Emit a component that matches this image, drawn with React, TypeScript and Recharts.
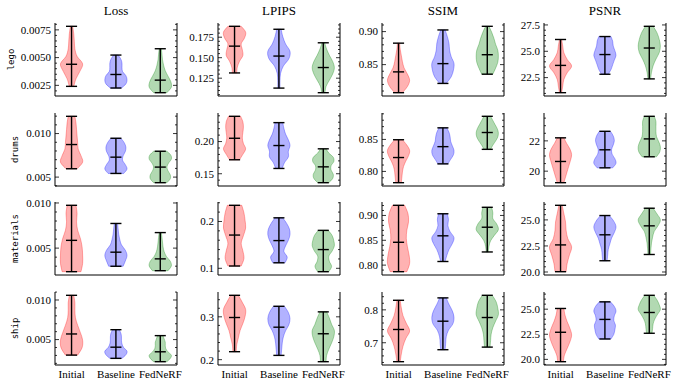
import React from "react";
import { Bar, ComposedChart, XAxis, YAxis } from "recharts";

const groups = ["Initial", "Baseline", "FedNeRF"];
const scenes = ["lego", "drums", "materials", "ship"];
const metrics = ["Loss", "LPIPS", "SSIM", "PSNR"];
const colors = ["#ff0000", "#0000ff", "#008000"];

// [min, median, max] for Initial, Baseline, FedNeRF
const legoLoss = [[0.00241, 0.0044, 0.00782], [0.00226, 0.00348, 0.00523], [0.00184, 0.00297, 0.0058]];
const legoLpips = [[0.1314, 0.1641, 0.1883], [0.1129, 0.152, 0.1847], [0.1073, 0.138, 0.1682]];
const legoSsim = [[0.8075, 0.839, 0.8825], [0.8215, 0.8515, 0.9025], [0.8355, 0.865, 0.908]];
const legoPsnr = [[21.07, 23.66, 26.12], [22.82, 24.69, 26.4], [22.38, 25.31, 27.37]];

const drumsLoss = [[0.00596, 0.00874, 0.01198], [0.00542, 0.00729, 0.00946], [0.00436, 0.00615, 0.00797]];
const drumsLpips = [[0.1717, 0.2051, 0.2392], [0.1582, 0.1938, 0.2294], [0.1361, 0.1607, 0.1887]];
const drumsSsim = [[0.7824, 0.8217, 0.8495], [0.8118, 0.8387, 0.8681], [0.8345, 0.8608, 0.8861]];
const drumsPsnr = [[19.24, 20.64, 22.2], [20.22, 21.41, 22.63], [20.95, 22.13, 23.62]];

const materialsLoss = [[0.00239, 0.00586, 0.00974], [0.00299, 0.00455, 0.00773], [0.0025, 0.00381, 0.00672]];
const materialsLpips = [[0.1049, 0.171, 0.2345], [0.1118, 0.1592, 0.2078], [0.0928, 0.14, 0.181]];
const materialsSsim = [[0.7868, 0.846, 0.9204], [0.8073, 0.859, 0.9034], [0.8265, 0.8763, 0.9164]];
const materialsPsnr = [[20.03, 22.6, 26.4], [21.08, 23.57, 25.42], [21.68, 24.43, 26.12]];

const shipLoss = [[0.00304, 0.00571, 0.01059], [0.00263, 0.00404, 0.00625], [0.00221, 0.00346, 0.0055]];
const shipLpips = [[0.2186, 0.2984, 0.3502], [0.21, 0.2758, 0.3246], [0.1953, 0.2605, 0.3116]];
const shipSsim = [[0.6424, 0.7403, 0.8291], [0.6788, 0.7655, 0.8364], [0.6867, 0.7767, 0.8442]];
const shipPsnr = [[19.77, 22.7, 25.07], [22.03, 23.98, 25.73], [22.6, 24.67, 26.38]];

// relative violin widths, from min (bottom) to max (top)
const legoLossShape = [
  [0.2, 0.4, 0.75, 1.0, 0.5, 0.3, 0.25, 0.2, 0.1],
  [0.5, 0.9, 1.0, 0.9, 0.6, 0.55, 0.55, 0.45, 0.2],
  [0.6, 1.0, 0.95, 0.7, 0.45, 0.3, 0.2, 0.15, 0.1],
];
const legoLpipsShape = [
  [0.2, 0.25, 0.45, 0.75, 0.7, 0.6, 0.9, 1.0, 0.6],
  [0.1, 0.1, 0.15, 0.4, 0.9, 1.0, 0.6, 0.35, 0.2],
  [0.15, 0.25, 0.55, 0.85, 1.0, 0.85, 0.55, 0.3, 0.12],
];
const legoSsimShape = [
  [0.35, 0.8, 1.0, 0.8, 0.5, 0.35, 0.25, 0.15, 0.1],
  [0.3, 0.75, 0.95, 1.0, 0.75, 0.6, 0.55, 0.4, 0.2],
  [0.5, 0.75, 0.95, 1.0, 0.95, 0.75, 0.6, 0.4, 0.15],
];
const legoPsnrShape = [
  [0.1, 0.2, 0.3, 0.6, 1.0, 0.6, 0.3, 0.2, 0.1],
  [0.3, 0.55, 0.7, 0.85, 1.0, 0.9, 0.75, 0.7, 0.55],
  [0.12, 0.2, 0.35, 0.6, 0.9, 1.0, 0.9, 0.7, 0.35],
];
const drumsLossShape = [
  [0.5, 1.0, 0.85, 0.6, 0.55, 0.5, 0.45, 0.4, 0.3],
  [0.7, 1.0, 0.85, 0.6, 0.65, 0.85, 0.9, 0.75, 0.45],
  [0.6, 0.9, 0.9, 0.7, 0.6, 0.75, 1.0, 0.95, 0.6],
];
const drumsLpipsShape = [
  [0.45, 0.75, 1.0, 0.8, 0.7, 0.75, 0.8, 0.75, 0.55],
  [0.3, 0.5, 0.85, 0.85, 1.0, 0.85, 0.6, 0.45, 0.35],
  [0.5, 0.85, 0.9, 0.7, 0.7, 0.95, 0.9, 0.5, 0.25],
];
const drumsSsimShape = [
  [0.25, 0.3, 0.35, 0.45, 0.65, 0.9, 1.0, 0.75, 0.35],
  [0.45, 0.7, 0.95, 1.0, 0.85, 0.7, 0.65, 0.55, 0.35],
  [0.3, 0.5, 0.75, 0.95, 1.0, 0.9, 0.7, 0.5, 0.3],
];
const drumsPsnrShape = [
  [0.3, 0.45, 0.6, 0.75, 0.9, 1.0, 0.85, 0.55, 0.3],
  [0.7, 1.0, 0.9, 0.65, 0.6, 0.75, 0.85, 0.75, 0.5],
  [0.65, 0.95, 1.0, 0.85, 0.65, 0.6, 0.6, 0.6, 0.45],
];
const materialsLossShape = [
  [0.85, 1.0, 1.0, 0.95, 0.8, 0.55, 0.45, 0.5, 0.4],
  [0.65, 0.85, 1.0, 0.85, 0.5, 0.35, 0.25, 0.2, 0.15],
  [0.7, 1.0, 0.9, 0.55, 0.35, 0.25, 0.2, 0.15, 0.1],
];
const materialsLpipsShape = [
  [0.6, 0.85, 0.75, 0.6, 0.8, 1.0, 0.95, 0.85, 0.65],
  [0.55, 0.75, 0.45, 0.6, 0.85, 1.0, 0.95, 0.7, 0.35],
  [0.5, 0.75, 0.55, 0.5, 0.8, 1.0, 0.95, 0.8, 0.45],
];
const materialsSsimShape = [
  [0.75, 1.0, 0.95, 0.8, 0.7, 0.75, 0.9, 0.85, 0.55],
  [0.2, 0.35, 0.55, 0.85, 1.0, 0.65, 0.45, 0.5, 0.4],
  [0.1, 0.15, 0.3, 0.65, 1.0, 0.85, 0.5, 0.5, 0.4],
];
const materialsPsnrShape = [
  [0.5, 0.6, 0.8, 1.0, 0.65, 0.5, 0.45, 0.3, 0.15],
  [0.2, 0.25, 0.3, 0.45, 0.6, 0.85, 1.0, 0.8, 0.4],
  [0.12, 0.15, 0.2, 0.3, 0.45, 0.8, 1.0, 0.7, 0.35],
];
const shipLossShape = [
  [0.55, 0.95, 1.0, 0.8, 0.55, 0.35, 0.3, 0.3, 0.2],
  [0.55, 0.9, 1.0, 0.7, 0.55, 0.5, 0.5, 0.45, 0.3],
  [0.6, 0.9, 1.0, 0.7, 0.5, 0.45, 0.45, 0.35, 0.25],
];
const shipLpipsShape = [
  [0.15, 0.2, 0.35, 0.5, 0.75, 0.95, 1.0, 0.7, 0.35],
  [0.2, 0.25, 0.3, 0.4, 0.6, 0.9, 1.0, 0.85, 0.5],
  [0.25, 0.3, 0.5, 0.75, 0.95, 1.0, 0.75, 0.55, 0.3],
];
const shipSsimShape = [
  [0.15, 0.25, 0.4, 0.65, 1.0, 0.7, 0.4, 0.25, 0.15],
  [0.2, 0.25, 0.3, 0.5, 0.9, 1.0, 0.85, 0.55, 0.3],
  [0.25, 0.3, 0.35, 0.5, 0.75, 1.0, 0.95, 0.8, 0.45],
];
const shipPsnrShape = [
  [0.25, 0.35, 0.6, 0.85, 1.0, 0.85, 0.6, 0.4, 0.3],
  [0.55, 0.8, 0.9, 0.95, 0.8, 0.85, 1.0, 0.85, 0.5],
  [0.25, 0.3, 0.35, 0.5, 0.75, 1.0, 0.9, 0.7, 0.4],
];

// major tick values
const legoLossTicks = [0.0025, 0.005, 0.0075];
const legoLpipsTicks = [0.125, 0.15, 0.175];
const legoSsimTicks = [0.85, 0.9];
const legoPsnrTicks = [22.5, 25, 27.5];
const drumsLossTicks = [0.005, 0.01];
const drumsLpipsTicks = [0.15, 0.2];
const drumsSsimTicks = [0.8, 0.85];
const drumsPsnrTicks = [20, 22];
const materialsLossTicks = [0.005, 0.01];
const materialsLpipsTicks = [0.1, 0.2];
const materialsSsimTicks = [0.8, 0.85, 0.9];
const materialsPsnrTicks = [20, 22.5, 25];
const shipLossTicks = [0.005, 0.01];
const shipLpipsTicks = [0.2, 0.3];
const shipSsimTicks = [0.7, 0.8];
const shipPsnrTicks = [20, 22.5, 25];

const panels = [
  [
    { stats: legoLoss, shape: legoLossShape, majors: legoLossTicks, minor: 0.0005, digits: 4 },
    { stats: legoLpips, shape: legoLpipsShape, majors: legoLpipsTicks, minor: 0.005, digits: 3 },
    { stats: legoSsim, shape: legoSsimShape, majors: legoSsimTicks, minor: 0.01, digits: 2 },
    { stats: legoPsnr, shape: legoPsnrShape, majors: legoPsnrTicks, minor: 0.5, digits: 1 },
  ],
  [
    { stats: drumsLoss, shape: drumsLossShape, majors: drumsLossTicks, minor: 0.001, digits: 3 },
    { stats: drumsLpips, shape: drumsLpipsShape, majors: drumsLpipsTicks, minor: 0.01, digits: 2 },
    { stats: drumsSsim, shape: drumsSsimShape, majors: drumsSsimTicks, minor: 0.01, digits: 2 },
    { stats: drumsPsnr, shape: drumsPsnrShape, majors: drumsPsnrTicks, minor: 0.5, digits: 0 },
  ],
  [
    { stats: materialsLoss, shape: materialsLossShape, majors: materialsLossTicks, minor: 0.001, digits: 3 },
    { stats: materialsLpips, shape: materialsLpipsShape, majors: materialsLpipsTicks, minor: 0.02, digits: 1 },
    { stats: materialsSsim, shape: materialsSsimShape, majors: materialsSsimTicks, minor: 0.01, digits: 2 },
    { stats: materialsPsnr, shape: materialsPsnrShape, majors: materialsPsnrTicks, minor: 0.5, digits: 1 },
  ],
  [
    { stats: shipLoss, shape: shipLossShape, majors: shipLossTicks, minor: 0.001, digits: 3 },
    { stats: shipLpips, shape: shipLpipsShape, majors: shipLpipsTicks, minor: 0.02, digits: 1 },
    { stats: shipSsim, shape: shipSsimShape, majors: shipSsimTicks, minor: 0.02, digits: 1 },
    { stats: shipPsnr, shape: shipPsnrShape, majors: shipPsnrTicks, minor: 0.5, digits: 1 },
  ],
];

const serif = "'Liberation Serif', 'Times New Roman', serif";
const mono = "'DejaVu Sans Mono', monospace";
const L = 50; // left axis width
const R = 24; // room right of the frame for the last category label
const T = 8;
const XH = 24;
const BW = 122;
const BH = 73;
const boxLeft = [55, 218, 382, 544];
const boxTop = [23, 113, 202, 292];
const rowLabelX = [10.5, 14.5, 14.5, 14.5];

function curve(pts: number[][]) {
  let s = "";
  for (let i = 0; i < pts.length - 1; i++) {
    const p0 = pts[Math.max(i - 1, 0)];
    const p1 = pts[i];
    const p2 = pts[i + 1];
    const p3 = pts[Math.min(i + 2, pts.length - 1)];
    const c1x = p1[0] + (p2[0] - p0[0]) / 6;
    const c1y = p1[1] + (p2[1] - p0[1]) / 6;
    const c2x = p2[0] - (p3[0] - p1[0]) / 6;
    const c2y = p2[1] - (p3[1] - p1[1]) / 6;
    s += ` C${c1x},${c1y} ${c2x},${c2y} ${p2[0]},${p2[1]}`;
  }
  return s;
}

function Violin(props: any) {
  const { x, y, width, height, payload } = props;
  if (width == null || height == null || !payload) return null;
  const top = Math.min(y, y + height);
  const h = Math.abs(height);
  const bot = top + h;
  const cx = x + width / 2;
  const hw = width / 2;
  const [lo, hi] = payload.range;
  const ym = top + (h * (hi - payload.med)) / (hi - lo);
  const prof: number[] = payload.prof;
  const n = prof.length;
  const right = prof.map((w, i) => [cx + w * hw, bot - (h * i) / (n - 1)]);
  const left = prof.map((w, i) => [cx - w * hw, bot - (h * i) / (n - 1)]).reverse();
  const d =
    `M${left[n - 1][0]},${bot} L${right[0][0]},${right[0][1]}` +
    curve(right) +
    ` L${left[0][0]},${left[0][1]}` +
    curve(left) +
    " Z";
  const cap = hw / 2;
  return (
    <g>
      <path d={d} fill={payload.color} fillOpacity={0.3} stroke={payload.color} strokeOpacity={0.3} strokeWidth={1} />
      <line x1={cx} x2={cx} y1={top} y2={bot} stroke="#000" strokeWidth={1.4} />
      <line x1={cx - cap} x2={cx + cap} y1={top} y2={top} stroke="#000" strokeWidth={1.4} />
      <line x1={cx - cap} x2={cx + cap} y1={bot} y2={bot} stroke="#000" strokeWidth={1.4} />
      <line x1={cx - cap} x2={cx + cap} y1={ym} y2={ym} stroke="#000" strokeWidth={1.4} />
    </g>
  );
}

function Panel({ cfg, bottom }: { cfg: any; bottom: boolean }) {
  const { stats, shape, majors, minor, digits } = cfg;
  const lo = Math.min(...stats.map((s: number[]) => s[0]));
  const hi = Math.max(...stats.map((s: number[]) => s[2]));
  const pad = (hi - lo) * 0.05;
  const domain = [lo - pad, hi + pad];
  const ticks: number[] = [];
  for (let k = Math.ceil(domain[0] / minor - 1e-6); k * minor <= domain[1] + 1e-9; k++) {
    ticks.push(Number((k * minor).toFixed(8)));
  }
  const isMajor = (v: number) => majors.some((m: number) => Math.abs(m - v) < minor / 10);
  const data = stats.map((s: number[], i: number) => ({
    pos: i + 1,
    range: [s[0], s[2]],
    med: s[1],
    prof: shape[i],
    color: colors[i],
  }));

  const leftTick = (p: any) => {
    const v = p.payload.value;
    const major = isMajor(v);
    return (
      <g>
        <line x1={L} x2={L + (major ? 4 : 2)} y1={p.y} y2={p.y} stroke="#000" strokeWidth={0.8} />
        {major && (
          <text x={L - 4} y={p.y} dy="0.35em" textAnchor="end" fontSize={11} fontFamily={serif} fill="#000">
            {v.toFixed(digits)}
          </text>
        )}
      </g>
    );
  };
  const rightTick = (p: any) => {
    const major = isMajor(p.payload.value);
    return <line x1={L + BW} x2={L + BW - (major ? 4 : 2)} y1={p.y} y2={p.y} stroke="#000" strokeWidth={0.8} />;
  };
  const xTick = (p: any) =>
    bottom ? (
      <text x={p.x} y={p.y} dy="0.71em" textAnchor="middle" fontSize={11} fontFamily={serif} fill="#000">
        {groups[p.payload.value - 1]}
      </text>
    ) : (
      <g />
    );

  return (
    <ComposedChart
      width={L + BW + R}
      height={T + BH + XH}
      data={data}
      margin={{ top: T, right: 0, bottom: 0, left: 0 }}
    >
      <XAxis
        xAxisId="b"
        dataKey="pos"
        type="number"
        domain={[0.625, 3.375]}
        allowDataOverflow
        ticks={[1, 2, 3]}
        interval={0}
        height={XH}
        tickLine={false}
        tickSize={0}
        tickMargin={5}
        axisLine={{ stroke: "#000" }}
        tick={xTick}
      />
      <XAxis
        xAxisId="t"
        orientation="top"
        type="number"
        domain={[0.625, 3.375]}
        allowDataOverflow
        height={0}
        tick={false}
        tickLine={false}
        axisLine={{ stroke: "#000" }}
      />
      <YAxis
        yAxisId="l"
        type="number"
        domain={domain}
        allowDataOverflow
        ticks={ticks}
        interval={0}
        width={L}
        tickLine={false}
        tickSize={0}
        tickMargin={4}
        axisLine={{ stroke: "#000" }}
        tick={leftTick}
      />
      <YAxis
        yAxisId="r"
        orientation="right"
        type="number"
        domain={domain}
        allowDataOverflow
        ticks={ticks}
        interval={0}
        width={R}
        tickLine={false}
        tickSize={0}
        tickMargin={0}
        axisLine={{ stroke: "#000" }}
        tick={rightTick}
      />
      <Bar
        xAxisId="b"
        yAxisId="l"
        dataKey="range"
        barSize={(BW * 0.5) / 2.75}
        shape={(p: any) => <Violin {...p} />}
        isAnimationActive={false}
      />
    </ComposedChart>
  );
}

export default function App() {
  return (
    <div style={{ position: "absolute", left: 0, top: 0, width: 676, height: 386, background: "#fff" }}>
      <svg width={676} height={386} style={{ position: "absolute", left: 0, top: 0 }}>
        {metrics.map((m, c) => (
          <text key={m} x={boxLeft[c] + BW / 2} y={10} dy="0.35em" textAnchor="middle" fontSize={13} fontFamily={serif} fill="#000">
            {m}
          </text>
        ))}
        {scenes.map((s, r) => (
          <text
            key={s}
            transform={`translate(${rowLabelX[r]},${boxTop[r] + BH / 2}) rotate(-90)`}
            dy="0.35em"
            textAnchor="middle"
            fontSize={9}
            fontFamily={mono}
            fill="#000"
          >
            {s}
          </text>
        ))}
      </svg>
      {panels.map((row, r) =>
        row.map((cfg, c) => (
          <div key={`${r}-${c}`} style={{ position: "absolute", left: boxLeft[c] - L, top: boxTop[r] - T }}>
            <Panel cfg={cfg} bottom={r === 3} />
          </div>
        ))
      )}
    </div>
  );
}
